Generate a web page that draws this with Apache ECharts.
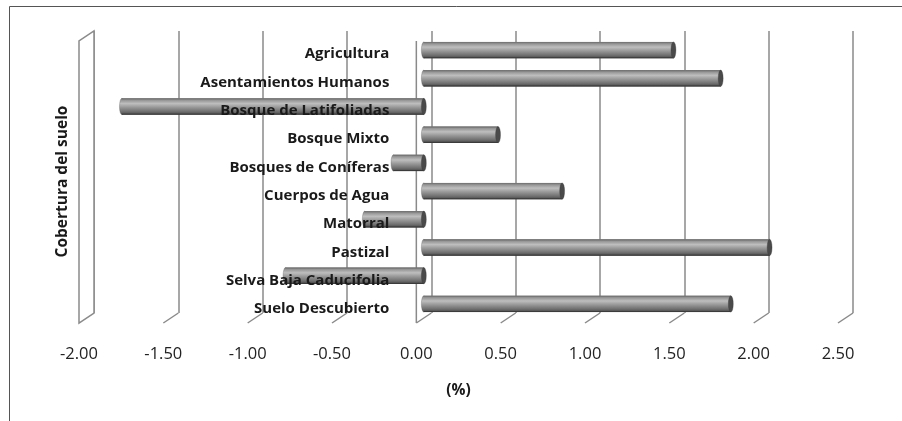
<!DOCTYPE html>
<html>
<head>
<meta charset="utf-8">
<script src="https://cdn.jsdelivr.net/npm/echarts@6/dist/echarts.min.js"></script>
<style>
  html, body { margin: 0; padding: 0; background: #fff; }
  #chart { width: 902px; height: 421px; }
</style>
</head>
<body>
<div id="chart"></div>
<script>
var categories = [
  "Agricultura",
  "Asentamientos Humanos",
  "Bosque de Latifoliadas",
  "Bosque Mixto",
  "Bosques de Coníferas",
  "Cuerpos de Agua",
  "Matorral",
  "Pastizal",
  "Selva Baja Caducifolia",
  "Suelo Descubierto"
];
var values = [1.48, 1.76, -1.79, 0.44, -0.18, 0.82, -0.35, 2.05, -0.82, 1.82];
var tickValues = [-2, -1.5, -1, -0.5, 0, 0.5, 1, 1.5, 2, 2.5];

var xMin = -2, xMax = 2.5, xStep = 0.5;
var depthX = 15, depthY = 10;
var gridColor = "#8a8a8a";
var gridWidth = 1.5;
var fontName = "Open Sans";

// front plane grid box
var frontLeft = 79, frontRight = 64;
var plotWidth = 902 - frontLeft - frontRight;
// the category labels sit on the value 0 of the front plane
var zeroOffset = -((0 - xMin) / (xMax - xMin)) * plotWidth;

var cylFill = {
  type: "linear", x: 0, y: 0, x2: 0, y2: 1,
  colorStops: [
    { offset: 0, color: "#6a6a6a" },
    { offset: 0.12, color: "#969696" },
    { offset: 0.32, color: "#bebebe" },
    { offset: 0.55, color: "#989898" },
    { offset: 0.82, color: "#6e6e6e" },
    { offset: 1, color: "#474747" }
  ]
};

function renderCylinder(params, api) {
  var idx = api.value(0);
  var v = api.value(1);
  var p0 = api.coord([0, idx]);
  var p1 = api.coord([v, idx]);
  var h = api.size([0, 1])[1] * 0.58;
  var x0 = Math.min(p0[0], p1[0]);
  var x1 = Math.max(p0[0], p1[0]);
  var cy = p0[1];
  var rx = 0.3;
  return {
    type: "group",
    children: [
      {
        type: "circle",
        x: x0, y: cy, scaleX: rx,
        shape: { cx: 0, cy: 0, r: h / 2 },
        style: { fill: cylFill, stroke: "#5a5a5a", lineWidth: 0.5 }
      },
      {
        type: "rect",
        shape: { x: x0, y: cy - h / 2, width: x1 - x0, height: h },
        style: { fill: cylFill }
      },
      {
        type: "line",
        shape: { x1: x0, y1: cy - h / 2 + 0.5, x2: x1, y2: cy - h / 2 + 0.5 },
        style: { stroke: "#777", lineWidth: 1 }
      },
      {
        type: "line",
        shape: { x1: x0, y1: cy + h / 2 - 0.5, x2: x1, y2: cy + h / 2 - 0.5 },
        style: { stroke: "#3a3a3a", lineWidth: 1 }
      },
      {
        type: "circle",
        x: x1, y: cy, scaleX: rx,
        shape: { cx: 0, cy: 0, r: h / 2 },
        style: { fill: "#4a4a4a", stroke: "#363636", lineWidth: 0.5 }
      }
    ]
  };
}

// floor diagonals, front zero line and left wall, drawn from the back plane
function renderFrame(params, api) {
  var v = api.value(0);
  var b = api.coord([v, 0]);
  var t = api.coord([v, 1]);
  var lineStyle = { stroke: gridColor, lineWidth: gridWidth };
  if (v === xMin) {
    return {
      type: "polygon",
      shape: {
        points: [
          [t[0], t[1]], [b[0], b[1]],
          [b[0] - depthX, b[1] + depthY], [t[0] - depthX, t[1] + depthY]
        ]
      },
      style: { fill: "#fff", stroke: gridColor, lineWidth: gridWidth }
    };
  }
  var children = [{
    type: "line",
    shape: { x1: b[0], y1: b[1], x2: b[0] - depthX, y2: b[1] + depthY },
    style: lineStyle
  }];
  if (v === 0) {
    children.push({
      type: "line",
      shape: { x1: t[0] - depthX, y1: t[1] + depthY, x2: b[0] - depthX, y2: b[1] + depthY },
      style: lineStyle
    });
  }
  return { type: "group", children: children };
}

var myChart = echarts.init(document.getElementById("chart"));
var option = {
  animation: false,
  backgroundColor: "#fff",
  graphic: [{
    type: "rect",
    shape: { x: 9.5, y: 6.5, width: 1000, height: 500 },
    style: { fill: null, stroke: "#555", lineWidth: 1 },
    silent: true
  }],
  grid: [
    { left: frontLeft, right: frontRight, top: 40, bottom: 98, outerBoundsMode: "none", containLabel: false },
    { left: frontLeft + depthX, right: frontRight - depthX, top: 40 - depthY + 1, bottom: 98 + depthY, outerBoundsMode: "none", containLabel: false },
    { left: frontLeft + depthX / 2, right: frontRight - depthX / 2, top: 36, bottom: 103, outerBoundsMode: "none", containLabel: false },
    { left: frontLeft, right: frontRight, top: 40, bottom: 98, outerBoundsMode: "none", containLabel: false }
  ],
  xAxis: [
    {
      gridIndex: 0, type: "value", min: xMin, max: xMax, interval: xStep,
      axisLine: { show: false }, axisTick: { show: false }, splitLine: { show: false },
      axisLabel: {
        margin: 23, fontSize: 16.5, color: "#222", fontFamily: fontName,
        formatter: function (val) { return val.toFixed(2); }
      },
      name: "(%)", nameLocation: "middle", nameGap: 60,
      nameTextStyle: { fontSize: 15.5, fontWeight: "bold", color: "#1a1a1a", fontFamily: fontName }
    },
    {
      gridIndex: 1, type: "value", min: xMin, max: xMax, interval: xStep,
      axisLine: { show: false }, axisTick: { show: false }, axisLabel: { show: false },
      splitLine: { show: true, lineStyle: { color: gridColor, width: gridWidth } }
    },
    {
      gridIndex: 2, type: "value", min: xMin, max: xMax, interval: xStep, show: false
    },
    {
      gridIndex: 3, type: "value", min: xMin, max: xMax, show: false
    }
  ],
  yAxis: [
    {
      gridIndex: 0, type: "category", data: categories, inverse: true,
      position: "left", offset: zeroOffset, z: 10,
      axisLine: { show: false, onZero: false },
      axisTick: { show: false },
      axisLabel: {
        margin: 27, fontSize: 15, fontWeight: "bold", color: "#1a1a1a", fontFamily: fontName,
        padding: [4, 0, 0, 0]
      }
    },
    {
      gridIndex: 1, type: "value", min: 0, max: 1, show: false
    },
    {
      gridIndex: 2, type: "category", data: categories, inverse: true, show: false
    },
    {
      gridIndex: 3, type: "value", min: 0, max: 1,
      axisLine: { show: false, onZero: false }, axisTick: { show: false },
      axisLabel: { show: false }, splitLine: { show: false },
      name: "Cobertura del suelo", nameLocation: "middle", nameRotate: 90, nameGap: 8,
      nameTextStyle: { fontSize: 15.5, fontWeight: "bold", color: "#1a1a1a", fontFamily: fontName }
    }
  ],
  series: [
    {
      type: "custom",
      xAxisIndex: 1, yAxisIndex: 1,
      renderItem: renderFrame,
      data: tickValues.map(function (v) { return [v]; }),
      z: 1
    },
    {
      type: "custom",
      xAxisIndex: 2, yAxisIndex: 2,
      renderItem: renderCylinder,
      data: values.map(function (v, i) { return [i, v]; }),
      z: 2
    }
  ]
};
myChart.setOption(option);
</script>
</body>
</html>
